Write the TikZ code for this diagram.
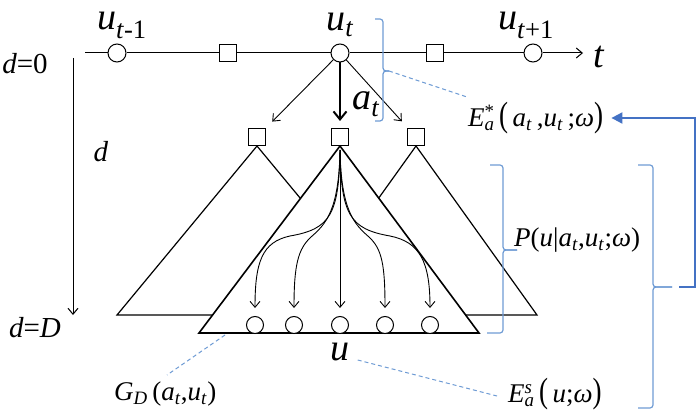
\documentclass[tikz,border=0pt]{standalone}
\usepackage{fontspec}
\setmainfont{LiberationSerif}[Extension=.ttf,UprightFont=*-Regular,ItalicFont=*-Italic,BoldFont=*-Bold,BoldItalicFont=*-BoldItalic]
\usetikzlibrary{arrows.meta}
\definecolor{bl}{RGB}{110,155,212}
\definecolor{bla}{RGB}{68,114,196}
\newcommand{\iv}[1]{\textit{#1}}
\newcommand{\sbs}[1]{\textsubscript{#1}}
\newcommand{\bpar}[1]{\scalebox{1}[1.3]{#1}}
\begin{document}
\begin{tikzpicture}[x=1pt,y=-1pt,
  circ/.style={circle,draw,fill=white,minimum size=18pt,inner sep=0pt,line width=1pt},
  sq/.style={rectangle,draw,fill=white,minimum size=17pt,inner sep=0pt,line width=1pt},
  tri/.style={draw,line width=1.2pt,line join=miter},
  arr/.style={-{Straight Barb[length=6pt,width=10pt]},line width=0.9pt},
  bigarr/.style={-{Straight Barb[length=8pt,width=13pt]},line width=2pt},
  br/.style={draw=bl,line width=1.2pt,rounded corners=3pt},
  dsh/.style={draw=bl,line width=1pt,dash pattern=on 4pt off 3pt},
  big/.style={inner sep=0pt,font=\fontsize{38}{42}\selectfont},
  mid/.style={inner sep=0pt,font=\fontsize{29}{32}\selectfont},
  sml/.style={inner sep=0pt,font=\fontsize{27}{30}\selectfont}
]
\useasboundingbox (0,0) rectangle (698,414);

% side triangles
\draw[tri] (257,146) -- (117,315) -- (397,315) -- cycle;
\draw[tri] (416,146) -- (295,315) -- (537,315) -- cycle;
% central triangle
\filldraw[fill=white,line width=1.6pt,line join=miter] (340,146) -- (199,333) -- (479,333) -- cycle;

% timeline
\coordinate (tstart) at (85,53);
\coordinate (tend) at (583,53);
\node[circ] (ut1) at (117,53) {};
\node[sq] (s1) at (228,53) {};
\node[circ] (ut) at (340,53) {};
\node[sq] (s2) at (435,53) {};
\node[circ] (ut2) at (533,53) {};
\draw[line width=1pt] (tstart) -- (ut1) -- (s1) -- (ut) -- (s2) -- (ut2);
\draw[arr,line width=1pt] (ut2) -- (tend);

% second level
\node[sq] (sL) at (257,137) {};
\node[sq] (sC) at (340,137) {};
\node[sq] (sR) at (416,137) {};
\draw[arr,shorten >=9pt] (ut) -- (sL);
\draw[arr,shorten >=9pt] (ut) -- (sR);
\draw[bigarr,shorten >=7pt] (ut) -- (sC);

% leaves
\node[circ,minimum size=17pt] (c1) at (255,325) {};
\node[circ,minimum size=17pt] (c2) at (294,325) {};
\node[circ,minimum size=17pt] (c3) at (340,325) {};
\node[circ,minimum size=17pt] (c4) at (385,325) {};
\node[circ,minimum size=17pt] (c5) at (430,325) {};
\coordinate (ap) at (340,150);
\draw[arr,shorten >=8pt] (ap) .. controls (339,215) and (330,229) .. (290,236) .. controls (262,242) and (255,262) .. (c1.north);
\draw[arr,shorten >=8pt] (ap) .. controls (339,210) and (326,224) .. (311,237) .. controls (298,249) and (294,265) .. (c2.north);
\draw[arr,shorten >=8pt] (ap) -- (c3.north);
\draw[arr,shorten >=8pt] (ap) .. controls (341,210) and (354,224) .. (369,237) .. controls (382,249) and (385,265) .. (c4.north);
\draw[arr,shorten >=8pt] (ap) .. controls (341,215) and (350,229) .. (390,236) .. controls (420,242) and (430,262) .. (c5.north);

% depth axis
\coordinate (d0) at (73,58);
\coordinate (dD) at (73,315);
\draw[arr,line width=1pt] (d0) -- (dD);
\node[mid] (ld0) at (25,64) {\iv{d}=0};
\node[mid] (ld) at (101,152) {\iv{d}};
\node[mid] (ldD) at (35,328) {\iv{d}=\iv{D}};

% labels
\node[big] (lut1) at (122,25) {\iv{u}\sbs{\iv{t}-1}};
\node[big] (lut) at (340,25) {\iv{u}\sbs{\iv{t}}};
\node[big] (lut2) at (526,25) {\iv{u}\sbs{\iv{t}+1}};
\node[big] (lt) at (599,57) {\iv{t}};
\node[big] (lat) at (366,104) {\iv{a}\sbs{\iv{t}}};
\node[big] (lu) at (340,352) {\iv{u}};

\node[sml,anchor=west] (Estar) at (468,118) {\iv{E}\rlap{\textsuperscript{*}}\sbs{\iv{a}}\,\bpar{(}\,\iv{a}\sbs{\iv{t}}\,,\iv{u}\sbs{\iv{t}}\,;\iv{ω}\bpar{)}};
\node[sml,anchor=west] (Pl) at (514,240) {\iv{P}(\iv{u}|\iv{a}\sbs{\iv{t}},\iv{u}\sbs{\iv{t}};\iv{ω})};
\node[sml,anchor=west] (Es) at (508,394) {\iv{E}\rlap{\textsuperscript{\iv{s}}}\sbs{\iv{a}}\,\bpar{(}\,\iv{u};\iv{ω}\bpar{)}};
\node[sml,anchor=west] (Gd) at (114,394) {\iv{G}\sbs{\iv{D}}\,(\iv{a}\sbs{\iv{t}},\iv{u}\sbs{\iv{t}})};

% brackets
\draw[br] (375,19) -- (383,19) -- (383,71) -- (389,71);
\draw[br] (389,71) -- (383,71) -- (383,121) -- (375,121);
\coordinate (b1) at (389,71);
\draw[br] (490,165) -- (503,165) -- (503,250) -- (517,250);
\draw[br] (517,250) -- (503,250) -- (503,333) -- (487,333);
\draw[br] (638,165) -- (653,165) -- (653,287) -- (672,287);
\draw[br] (672,287) -- (653,287) -- (653,408) -- (638,408);
\coordinate (b3) at (679,287);

% blue feedback arrow
\draw[draw=bla,line width=2pt,-{Triangle[length=11pt,width=11pt]}] (b3) -- (695,287) -- (695,118) -- ([xshift=8pt]Estar.east);

% dashed leaders
\draw[dsh] (b1) -- (467,97);
\draw[dsh] (lu.east) ++(8,8) -- (497,396);
\draw[dsh] (225,335) -- (167,375);
\end{tikzpicture}
\end{document}
